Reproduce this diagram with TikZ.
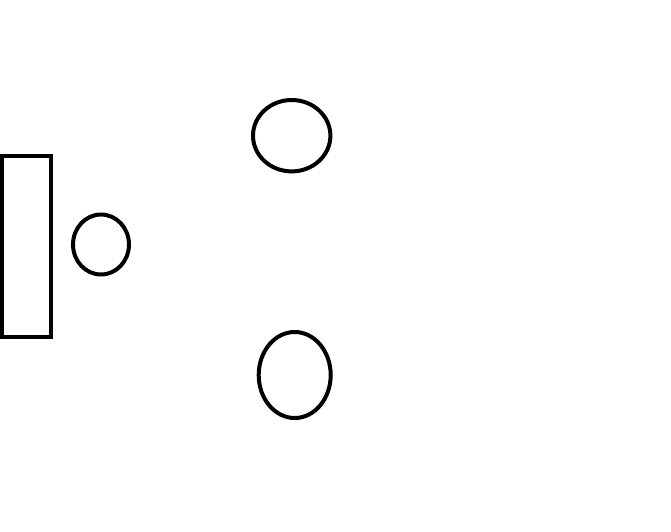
\documentclass[tikz,border=0pt]{standalone}
\usepackage{tikz}
\usetikzlibrary{shapes.geometric}

\begin{document}
\begin{tikzpicture}[
  x=1pt, y=-1pt,
  outline/.style={draw=black, line width=4pt, inner sep=0pt, outer sep=0pt},
  plate/.style={outline, rectangle, minimum width=49pt, minimum height=181.5pt},
  blob/.style={outline, ellipse},
  ]

\useasboundingbox (0,0) rectangle (671,531);

% Left block and the small circle beside it
\node (plate) [plate] at (26.5,246.25) {};
\node (ball) [blob, minimum width=56pt, minimum height=60pt] at (101,244.5) {};

% Two ovals on the right
\node (upper) [blob, minimum width=77.4pt, minimum height=71.4pt] at (291.7,135.7) {};
\node (lower) [blob, minimum width=72pt, minimum height=86pt] at (294.7,375) {};

\end{tikzpicture}
\end{document}
